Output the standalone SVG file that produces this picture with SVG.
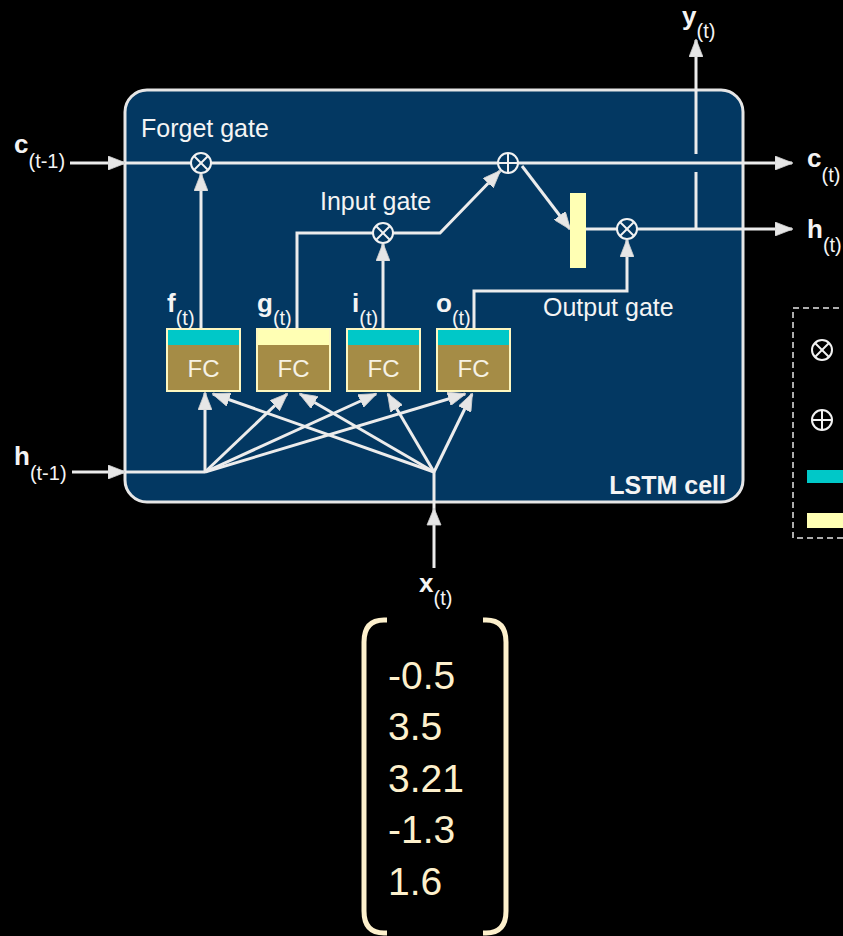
<svg xmlns="http://www.w3.org/2000/svg" width="843" height="936" viewBox="0 0 843 936">
  <defs>
    <style>
      .wire { fill: none; stroke: #ececec; stroke-width: 3; stroke-linejoin: miter; }
      .arr { marker-end: url(#head); }
      .op { fill: #033862; stroke: #f2f2f2; stroke-width: 2; }
      .opk { fill: #000; stroke: #f2f2f2; stroke-width: 2; }
      .opline { stroke: #f2f2f2; stroke-width: 2; }
      .lbl { font-family: "Liberation Sans", Arial, sans-serif; fill: #f4f4f4; }
      .gate { font-size: 25px; }
      .main { font-size: 26px; font-weight: bold; }
      .sub { font-size: 20px; }
      .fcbody { fill: #a58c46; stroke: #fdf7c0; stroke-width: 2; }
      .sig { fill: #00c8c8; }
      .tanh { fill: #ffffb4; }
      .fctext { font-family: "Liberation Sans", Arial, sans-serif; font-size: 24px; fill: #f6f2e4; text-anchor: middle; }
      .vec { font-family: "Liberation Sans", Arial, sans-serif; font-size: 39px; fill: #fdf0cc; }
    </style>
    <marker id="head" viewBox="0 0 18 14" refX="17" refY="7" markerWidth="18" markerHeight="14" markerUnits="userSpaceOnUse" orient="auto">
      <path d="M0,0 L18,7 L0,14 Z" fill="#e6e6e6" stroke="#cfcfcf" stroke-width="0.8"/>
    </marker>
  </defs>

  <rect width="843" height="936" fill="#000"/>

  <!-- cell body -->
  <g id="lstm-cell">
    <rect x="125" y="90" width="618" height="412" rx="22" ry="22" fill="#033862" stroke="#e6e6e6" stroke-width="3"/>
    <text class="lbl" x="726" y="494" font-size="25" font-weight="bold" text-anchor="end">LSTM cell</text>
  </g>

  <!-- connectors -->
  <g id="connectors">
    <!-- long-term state -->
    <line class="wire arr" x1="70" y1="163" x2="125" y2="163"/>
    <line class="wire" x1="125" y1="163" x2="191" y2="163"/>
    <line class="wire" x1="211" y1="163" x2="498" y2="163"/>
    <line class="wire arr" x1="518" y1="163" x2="792" y2="163"/>

    <!-- short-term state in -->
    <line class="wire arr" x1="72" y1="472" x2="125" y2="472"/>
    <line class="wire" x1="125" y1="472" x2="205" y2="472"/>

    <!-- input x(t) -->
    <line class="wire" x1="434" y1="568" x2="434" y2="472"/>
    <path d="M434,508 L441,525 L427,525 Z" fill="#e6e6e6" stroke="#cfcfcf" stroke-width="0.8"/>

    <!-- fan from h(t-1) -->
    <line class="wire arr" x1="205" y1="472" x2="205" y2="393"/>
    <line class="wire arr" x1="205" y1="472" x2="287" y2="394"/>
    <line class="wire arr" x1="205" y1="472" x2="376" y2="394"/>
    <line class="wire arr" x1="205" y1="472" x2="465" y2="394"/>

    <!-- fan from x(t) -->
    <line class="wire arr" x1="434" y1="472" x2="213" y2="394"/>
    <line class="wire arr" x1="434" y1="472" x2="300" y2="394"/>
    <line class="wire arr" x1="434" y1="472" x2="388" y2="394"/>
    <line class="wire arr" x1="434" y1="472" x2="472" y2="394"/>

    <!-- forget gate -->
    <line class="wire arr" x1="201" y1="329" x2="201" y2="174"/>

    <!-- candidate g(t) and input gate -->
    <polyline class="wire" points="297,329 297,233 373,233"/>
    <line class="wire arr" x1="383" y1="329" x2="383" y2="244"/>
    <polyline class="wire arr" points="393,233 440,233 500,171"/>

    <!-- to tanh and output gate -->
    <line class="wire arr" x1="522" y1="166" x2="570" y2="229"/>
    <line class="wire" x1="586" y1="229" x2="617" y2="229"/>
    <polyline class="wire arr" points="474,329 474,291 627,291 627,240"/>
    <line class="wire arr" x1="637" y1="229" x2="792" y2="229"/>

    <!-- y(t) branch, hopping over the state line -->
    <line class="wire" x1="696" y1="229" x2="696" y2="172"/>
    <line class="wire arr" x1="696" y1="154" x2="696" y2="40"/>
  </g>

  <!-- element-wise operators -->
  <g id="forget-mul">
    <circle class="op" cx="201" cy="163" r="10"/>
    <line class="opline" x1="194" y1="156" x2="208" y2="170"/>
    <line class="opline" x1="208" y1="156" x2="194" y2="170"/>
    <text class="lbl gate" x="141" y="137">Forget gate</text>
  </g>
  <g id="input-mul">
    <circle class="op" cx="383" cy="233" r="10"/>
    <line class="opline" x1="376" y1="226" x2="390" y2="240"/>
    <line class="opline" x1="390" y1="226" x2="376" y2="240"/>
    <text class="lbl gate" x="320" y="210">Input gate</text>
  </g>
  <g id="state-add">
    <circle class="op" cx="508" cy="163" r="10"/>
    <line class="opline" x1="498" y1="163" x2="518" y2="163"/>
    <line class="opline" x1="508" y1="153" x2="508" y2="173"/>
  </g>
  <g id="tanh-bar">
    <rect class="tanh" x="570" y="193" width="16" height="75"/>
  </g>
  <g id="output-mul">
    <circle class="op" cx="627" cy="229" r="10"/>
    <line class="opline" x1="620" y1="222" x2="634" y2="236"/>
    <line class="opline" x1="634" y1="222" x2="620" y2="236"/>
    <text class="lbl gate" x="543" y="316">Output gate</text>
  </g>

  <!-- fully connected layers -->
  <g id="fc-f">
    <rect class="fcbody" x="167" y="329" width="73" height="62"/>
    <rect class="sig" x="168" y="330" width="71" height="15"/>
    <text class="fctext" x="203.5" y="377">FC</text>
    <text class="lbl" x="167" y="312"><tspan class="main">f</tspan><tspan class="sub" dy="13">(t)</tspan></text>
  </g>
  <g id="fc-g">
    <rect class="fcbody" x="257" y="329" width="73" height="62"/>
    <rect class="tanh" x="258" y="330" width="71" height="15"/>
    <text class="fctext" x="293.5" y="377">FC</text>
    <text class="lbl" x="257" y="312"><tspan class="main">g</tspan><tspan class="sub" dy="13">(t)</tspan></text>
  </g>
  <g id="fc-i">
    <rect class="fcbody" x="347" y="329" width="73" height="62"/>
    <rect class="sig" x="348" y="330" width="71" height="15"/>
    <text class="fctext" x="383.5" y="377">FC</text>
    <text class="lbl" x="352" y="312"><tspan class="main">i</tspan><tspan class="sub" dy="13">(t)</tspan></text>
  </g>
  <g id="fc-o">
    <rect class="fcbody" x="437" y="329" width="73" height="62"/>
    <rect class="sig" x="438" y="330" width="71" height="15"/>
    <text class="fctext" x="473.5" y="377">FC</text>
    <text class="lbl" x="436" y="312"><tspan class="main">o</tspan><tspan class="sub" dy="13">(t)</tspan></text>
  </g>

  <!-- terminal labels -->
  <g id="c-prev"><text class="lbl" x="14" y="153"><tspan class="main">c</tspan><tspan class="sub" dy="15">(t-1)</tspan></text></g>
  <g id="h-prev"><text class="lbl" x="14" y="465"><tspan class="main">h</tspan><tspan class="sub" dy="15">(t-1)</tspan></text></g>
  <g id="c-out"><text class="lbl" x="807" y="167"><tspan class="main">c</tspan><tspan class="sub" dy="15">(t)</tspan></text></g>
  <g id="h-out"><text class="lbl" x="807" y="238"><tspan class="main">h</tspan><tspan class="sub" dy="14">(t)</tspan></text></g>
  <g id="y-out"><text class="lbl" x="682" y="25"><tspan class="main">y</tspan><tspan class="sub" dy="13">(t)</tspan></text></g>
  <g id="x-in"><text class="lbl" x="419" y="592"><tspan class="main">x</tspan><tspan class="sub" dy="13">(t)</tspan></text></g>

  <!-- input vector -->
  <g id="x-vector">
    <path d="M387,620 L384,620 Q364,620 364,642 L364,911 Q364,933 384,933 L387,933" fill="none" stroke="#fdf0cc" stroke-width="5"/>
    <path d="M483,620 L486,620 Q506,620 506,642 L506,911 Q506,933 486,933 L483,933" fill="none" stroke="#fdf0cc" stroke-width="5"/>
    <text class="vec" x="388" y="689">-0.5</text>
    <text class="vec" x="388" y="740">3.5</text>
    <text class="vec" x="388" y="792">3.21</text>
    <text class="vec" x="388" y="843">-1.3</text>
    <text class="vec" x="388" y="895">1.6</text>
  </g>

  <!-- legend -->
  <g id="legend">
    <rect x="793" y="308" width="80" height="230" fill="none" stroke="#e6e6e6" stroke-width="1.5" stroke-dasharray="6 4"/>
    <circle class="opk" cx="822" cy="350" r="10"/>
    <line class="opline" x1="815" y1="343" x2="829" y2="357"/>
    <line class="opline" x1="829" y1="343" x2="815" y2="357"/>
    <circle class="opk" cx="822" cy="420" r="10"/>
    <line class="opline" x1="812" y1="420" x2="832" y2="420"/>
    <line class="opline" x1="822" y1="410" x2="822" y2="430"/>
    <rect class="sig" x="807" y="470" width="40" height="13"/>
    <rect class="tanh" x="807" y="513" width="40" height="15"/>
  </g>
</svg>
